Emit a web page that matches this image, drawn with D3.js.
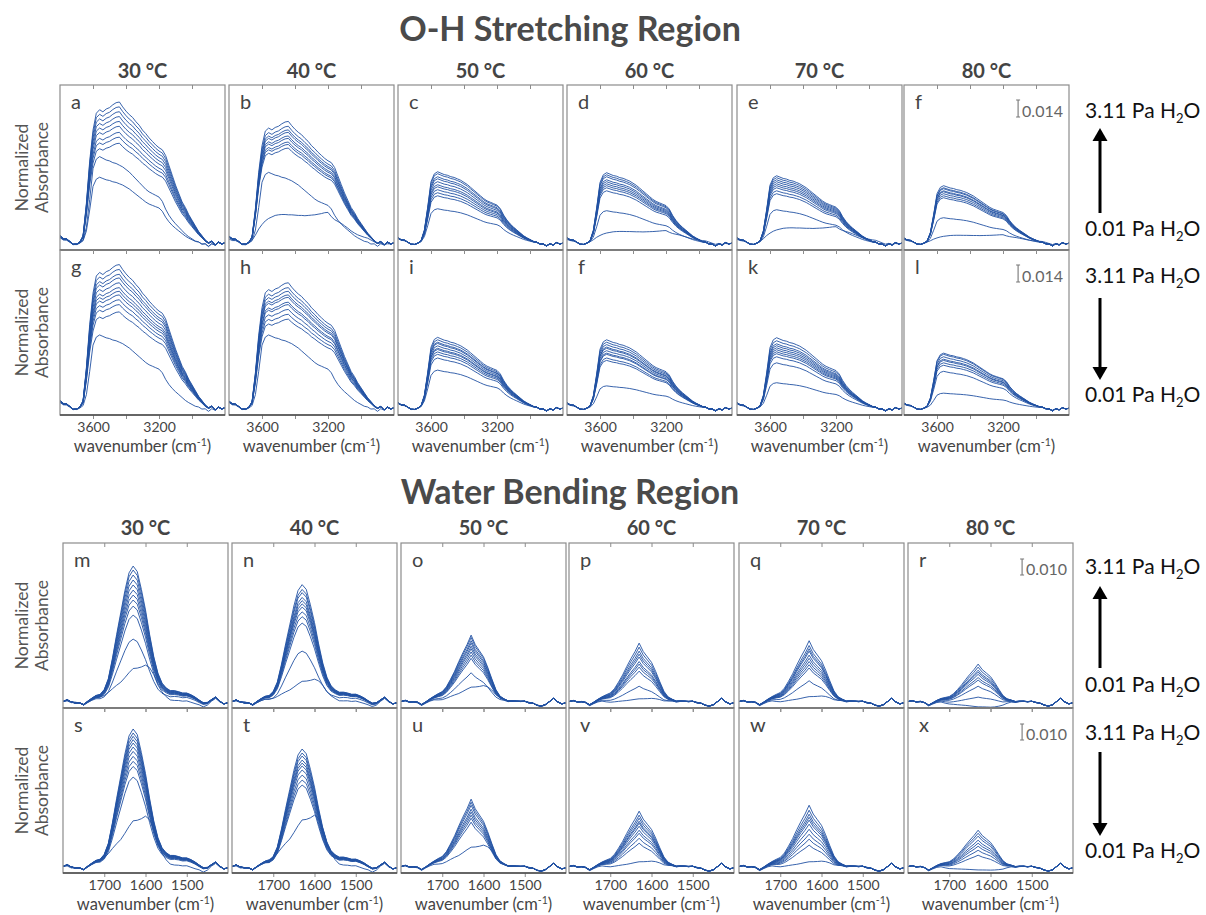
<!DOCTYPE html>
<html>
<head>
<meta charset="utf-8">
<script src="https://cdn.jsdelivr.net/npm/d3@7"></script>
<style>
  body { margin: 0; background: #fff; }
  svg text { font-family: Lato, "Open Sans", sans-serif; }
</style>
</head>
<body>
<div id="chart"></div>
<script>
// ---- data ----

const temps = ["30 °C", "40 °C", "50 °C", "60 °C", "70 °C", "80 °C"];

const ohLettersUp = ["a", "b", "c", "d", "e", "f"];
const ohLettersDown = ["g", "h", "i", "f", "k", "l"];
const bendLettersUp = ["m", "n", "o", "p", "q", "r"];
const bendLettersDown = ["s", "t", "u", "v", "w", "x"];

const ohTicks = [3600, 3400, 3200, 3000];
const ohTickLabels = [3600, 3200];
const bendTicks = [1700, 1600, 1500];
const bendTickLabels = [1700, 1600, 1500];

// O-H region, wavenumber grid (cm-1)
const ohWn = [3800, 3780, 3760, 3740, 3720, 3700, 3680, 3660, 3640, 3620,
  3600, 3580, 3560, 3540, 3520, 3500, 3480, 3460, 3440, 3420,
  3400, 3380, 3360, 3340, 3320, 3300, 3280, 3260, 3240, 3220,
  3200, 3180, 3160, 3140, 3120, 3100, 3080, 3060, 3040, 3020,
  3000, 2980, 2960, 2940, 2920, 2900, 2880, 2860, 2840, 2820, 2800];

// normalized band shapes: b = bulk-like (30-40 °C), s = surface-like, f = flat (lowest coverage)
const ohBulk = [0.030, 0.015, 0.020, 0.005, -0.005, 0.000, 0.010, 0.050, 0.280, 0.580,
  0.800, 0.920, 0.945, 0.930, 0.950, 0.960, 0.980, 0.995, 1.000, 0.965,
  0.935, 0.910, 0.890, 0.860, 0.835, 0.800, 0.775, 0.745, 0.720, 0.695,
  0.675, 0.660, 0.620, 0.550, 0.480, 0.410, 0.350, 0.290, 0.250, 0.200,
  0.160, 0.120, 0.080, 0.055, 0.030, 0.015, 0.020, -0.005, 0.010, 0.000, 0.005];
const ohSurf = [0.030, 0.010, 0.020, 0.000, -0.010, -0.005, 0.005, 0.030, 0.180, 0.500,
  0.860, 0.970, 1.000, 0.980, 0.960, 0.950, 0.930, 0.920, 0.900, 0.880,
  0.850, 0.820, 0.780, 0.740, 0.700, 0.660, 0.620, 0.590, 0.570, 0.550,
  0.530, 0.480, 0.390, 0.320, 0.265, 0.220, 0.180, 0.140, 0.100, 0.070,
  0.045, 0.020, 0.010, -0.010, 0.005, -0.020, 0.000, -0.010, 0.010, 0.000, 0.005];
const ohFlat = [0.02, 0.00, 0.03, 0.00, -0.03, -0.02, 0.02, 0.08, 0.25, 0.45,
  0.60, 0.72, 0.80, 0.85, 0.90, 0.92, 0.93, 0.93, 0.92, 0.92,
  0.91, 0.90, 0.90, 0.89, 0.90, 0.91, 0.92, 0.94, 0.96, 0.99,
  1.00, 0.86, 0.76, 0.70, 0.64, 0.56, 0.48, 0.39, 0.32, 0.26,
  0.22, 0.18, 0.15, 0.11, 0.08, 0.05, 0.02, 0.00, -0.02, 0.00, 0.01];
// shared baseline offset (absorbance)
const ohBase = [0.0025, 0.0018, 0.0010, 0.0004, -0.0008, -0.0012, -0.0006, 0, 0, 0,
  0, 0, 0, 0, 0, 0, 0, 0, 0, 0,
  0, 0, 0, 0, 0, 0, 0, 0, 0, 0,
  0, 0, 0, 0, 0, 0, 0, 0, 0, 0,
  0, 0, 0, -0.0005, -0.0012, -0.0018, -0.0008, -0.0014, -0.0004, -0.0010, -0.0006];

// band amplitudes (absorbance) per curve, and which shape each curve follows
const ohAmpsUp = [
  [0.116, 0.112, 0.108, 0.104, 0.100, 0.096, 0.091, 0.087, 0.082, 0.071, 0.054],
  [0.100, 0.096, 0.093, 0.091, 0.088, 0.086, 0.083, 0.081, 0.078, 0.058, 0.025],
  [0.0585, 0.0569, 0.0544, 0.0527, 0.0503, 0.0478, 0.0461, 0.0437, 0.0412, 0.0387, 0.028],
  [0.0577, 0.056, 0.0544, 0.0519, 0.0503, 0.0486, 0.047, 0.0453, 0.0428, 0.0264, 0.010],
  [0.0552, 0.0536, 0.0519, 0.0503, 0.0486, 0.047, 0.0453, 0.0428, 0.0404, 0.0272, 0.0132],
  [0.047, 0.0453, 0.0445, 0.0428, 0.042, 0.0404, 0.0387, 0.0371, 0.0206, 0.0066]
];
const ohKindsUp = ["bbbbbbbbbss", "bbbbbbbbbsf", "sssssssssss", "ssssssssssf", "ssssssssssf", "sssssssssf"];
const ohAmpsDown = [
  [0.118, 0.114, 0.110, 0.107, 0.103, 0.099, 0.096, 0.093, 0.089, 0.085, 0.079, 0.060],
  [0.103, 0.099, 0.096, 0.093, 0.091, 0.087, 0.085, 0.081, 0.077, 0.073, 0.060],
  [0.058, 0.056, 0.054, 0.053, 0.051, 0.049, 0.048, 0.046, 0.044, 0.041, 0.031],
  [0.056, 0.054, 0.052, 0.050, 0.049, 0.047, 0.045, 0.044, 0.041, 0.039, 0.018],
  [0.0577, 0.0552, 0.0527, 0.0511, 0.0494, 0.0478, 0.0461, 0.0445, 0.042, 0.037, 0.0206],
  [0.045, 0.044, 0.042, 0.040, 0.039, 0.037, 0.035, 0.030, 0.012]
];
const ohKindsDown = ["bbbbbbbbbbbs", "bbbbbbbbbbs", "sssssssssss", "sssssssssss", "sssssssssss", "sssssssss"];

// water bending region
const bendWn = [1800, 1790, 1780, 1770, 1760, 1750, 1740, 1730, 1720, 1710,
  1700, 1690, 1680, 1670, 1660, 1650, 1640, 1630, 1620, 1610,
  1600, 1590, 1580, 1570, 1560, 1550, 1540, 1530, 1520, 1510,
  1500, 1490, 1480, 1470, 1460, 1450, 1440, 1430, 1420, 1410, 1400];
// h = 30-40 °C band, t = sharper band at 50-80 °C, l = lowest coverage
const bendHigh = [0.000, 0.010, 0.000, -0.015, 0.000, 0.010, 0.020, 0.030, 0.045, 0.060,
  0.100, 0.180, 0.330, 0.500, 0.660, 0.820, 0.950, 1.000, 0.960, 0.830,
  0.680, 0.500, 0.340, 0.220, 0.140, 0.100, 0.085, 0.080, 0.070, 0.065,
  0.060, 0.055, 0.045, 0.035, 0.025, 0.020, 0.015, 0.010, 0.005, 0.000, 0.000];
const bendHot = [0.00, 0.01, 0.00, -0.01, 0.01, 0.02, 0.03, 0.05, 0.08, 0.13,
  0.17, 0.24, 0.35, 0.47, 0.61, 0.74, 0.86, 1.00, 0.86, 0.77,
  0.68, 0.53, 0.36, 0.20, 0.09, 0.04, 0.02, 0.01, 0.00, 0.01,
  0.00, -0.01, 0.00, -0.01, 0.00, 0.01, 0.00, 0.00, 0.00, 0.00, 0.00];
const bendLow = [0.00, 0.00, -0.02, -0.03, 0.00, 0.02, 0.04, 0.06, 0.10, 0.15,
  0.20, 0.28, 0.38, 0.47, 0.55, 0.67, 0.80, 0.91, 0.92, 0.95,
  1.00, 0.93, 0.75, 0.48, 0.27, 0.13, 0.06, 0.03, 0.02, 0.02,
  0.01, 0.00, -0.01, 0.00, -0.02, 0.00, 0.01, 0.00, 0.00, 0.00, 0.00];
const bendBase = [0.0010, 0.0014, 0.0008, 0.0012, 0.0002, -0.0016, -0.0004, 0.0006, 0.0010, 0.0004,
  0, 0, 0, 0, 0, 0, 0, 0, 0, 0,
  0, 0, 0, 0, 0.0006, 0.0010, 0.0006, 0.0010, 0.0012, 0.0008,
  0.0012, 0.0006, 0.0000, -0.0010, -0.0018, -0.0012, 0.0010, 0.0030, 0.0008, -0.0004, 0.0002];

const bendAmpsUp = [
  [0.0856, 0.0831, 0.080, 0.0769, 0.0738, 0.0706, 0.0675, 0.0644, 0.0606, 0.055, 0.040, 0.0238],
  [0.074, 0.071, 0.069, 0.066, 0.064, 0.062, 0.060, 0.057, 0.054, 0.050, 0.0325, 0.015],
  [0.0425, 0.041, 0.039, 0.0375, 0.0356, 0.034, 0.032, 0.030, 0.028, 0.019, 0.011],
  [0.0375, 0.035, 0.0325, 0.0306, 0.0288, 0.026, 0.0244, 0.0225, 0.020, 0.0106, 0.003],
  [0.039, 0.036, 0.034, 0.0325, 0.030, 0.028, 0.026, 0.024, 0.022, 0.014, 0.0045],
  [0.0244, 0.0225, 0.0206, 0.0194, 0.018, 0.016, 0.0144, 0.0106, 0.0038, -0.0025]
];
const bendKindsUp = ["hhhhhhhhhhhl", "hhhhhhhhhhhl", "ttttttttttl", "ttttttttttl", "ttttttttttl", "tttttttttl"];
const bendAmpsDown = [
  [0.0869, 0.0844, 0.0823, 0.0802, 0.0781, 0.0756, 0.0729, 0.0698, 0.0667, 0.0635, 0.0569, 0.0325],
  [0.0744, 0.0719, 0.070, 0.0675, 0.0656, 0.0638, 0.0613, 0.0581, 0.055, 0.0519, 0.0331],
  [0.0431, 0.0412, 0.0393, 0.0368, 0.035, 0.0331, 0.0312, 0.0287, 0.0144],
  [0.0356, 0.0331, 0.0312, 0.0293, 0.0281, 0.0262, 0.0237, 0.0218, 0.0187, 0.0156, 0.0044],
  [0.0393, 0.0362, 0.0337, 0.0318, 0.030, 0.0275, 0.0243, 0.0212, 0.0181, 0.0144, 0.0044],
  [0.0237, 0.0218, 0.020, 0.0175, 0.0156, 0.0137, 0.0112, 0.0081, -0.0012]
];
const bendKindsDown = ["hhhhhhhhhhhl", "hhhhhhhhhhl", "ttttttttl", "ttttttttttl", "ttttttttttl", "ttttttttl"];

// ---- drawing ----

const W = 1206, H = 915;
const LINE = "#2151a3";

const svg = d3.select("#chart").append("svg")
  .attr("width", W)
  .attr("height", H);

class SpectraPanel {

  constructor(svg, opts) {
    this.svg = svg;
    this.opts = opts;
    this.left = opts.left;
    this.top = opts.top;
    this.width = opts.width;
    this.height = opts.height;
    this.draw();
  }

  draw() {
    this.g = this.svg.append("g");
    this._createScales();
    this._drawCurves();
    this._drawFrame();
    this._drawText();
  }

  _createScales() {
    this.x = d3.scaleLinear()
      .domain(this.opts.xDomain)
      .range([this.left, this.left + this.width]);
    this.y = d3.scaleLinear()
      .domain(this.opts.yDomain)
      .range([this.top + this.height, this.top]);
  }

  _drawCurves() {
    const o = this.opts;
    const id = "clip-" + o.id;
    this.g.append("clipPath").attr("id", id)
      .append("rect")
      .attr("x", this.left).attr("y", this.top)
      .attr("width", this.width).attr("height", this.height);

    // lowest curve first so the higher ones sit on top
    const curves = o.amps.map((amp, i) => {
      const shape = o.shapes[o.kinds[i]];
      return o.wn.map((w, j) => [w, o.base[j] + amp * shape[j]]);
    }).reverse();

    const line = d3.line()
      .x(d => this.x(d[0]))
      .y(d => this.y(d[1]));

    this.g.append("g")
      .attr("clip-path", `url(#${id})`)
      .selectAll("path")
      .data(curves)
      .join("path")
        .attr("d", line)
        .attr("fill", "none")
        .attr("stroke", LINE)
        .attr("stroke-width", 0.9)
        .attr("stroke-linejoin", "round");
  }

  _drawFrame() {
    const o = this.opts;
    const bottom = this.top + this.height;

    this.g.append("rect")
      .attr("x", this.left).attr("y", this.top)
      .attr("width", this.width).attr("height", this.height)
      .attr("fill", "none")
      .attr("stroke", "#8c8c8c")
      .attr("stroke-width", 1.2);

    const fmt = d => o.showTickLabels && o.tickLabels.includes(d) ? d : "";

    const xAxis = this.g.append("g")
      .attr("transform", `translate(0,${bottom})`)
      .call(d3.axisBottom(this.x).tickValues(o.ticks).tickSize(4).tickPadding(3).tickFormat(fmt));
    xAxis.select(".domain").remove();
    xAxis.selectAll("line").attr("stroke", "#8c8c8c");
    xAxis.selectAll("text")
      .attr("font-size", 14)
      .attr("fill", "#444");

    const topAxis = this.g.append("g")
      .attr("transform", `translate(0,${this.top})`)
      .call(d3.axisTop(this.x).tickValues(o.ticks).tickSize(-4).tickFormat(""));
    topAxis.select(".domain").remove();
    topAxis.selectAll("line").attr("stroke", "#8c8c8c");

    // darker bottom axis line
    this.g.append("line")
      .attr("x1", this.left).attr("x2", this.left + this.width)
      .attr("y1", bottom).attr("y2", bottom)
      .attr("stroke", "#4a4a4a")
      .attr("stroke-width", 1.3);

    if (o.showTickLabels) {
      const t = this.g.append("text")
        .attr("x", this.left + this.width / 2)
        .attr("y", bottom + 37)
        .attr("text-anchor", "middle")
        .attr("font-size", 16.5)
        .attr("fill", "#444")
        .text("wavenumber (cm");
      t.append("tspan").attr("dy", -6).attr("font-size", 10.5).text("-1");
      t.append("tspan").attr("dy", 6).text(")");
    }
  }

  _drawText() {
    const o = this.opts;
    this.g.append("text")
      .attr("x", this.left + 11)
      .attr("y", this.top + 24)
      .attr("font-size", 20)
      .attr("fill", "#444")
      .text(o.letter);

    if (o.scaleBar) {
      const xr = this.left + this.width - 6;
      const yb = this.top + 32;
      const txt = this.g.append("text")
        .attr("x", xr).attr("y", yb)
        .attr("text-anchor", "end")
        .attr("font-size", 16)
        .attr("fill", "#666")
        .text(o.scaleBar.toFixed(3));
      const tw = txt.node().getComputedTextLength();
      const bx = xr - tw - 4;
      const yt = yb - (this.y(0) - this.y(o.scaleBar));
      this.g.append("path")
        .attr("d", `M${bx - 2},${yt}h4M${bx},${yt}V${yb}M${bx - 2},${yb}h4`)
        .attr("fill", "none")
        .attr("stroke", "#777")
        .attr("stroke-width", 1.1);
    }
  }
}

function drawRegion(cfg) {
  svg.append("text")
    .attr("x", 570).attr("y", cfg.titleY)
    .attr("text-anchor", "middle")
    .attr("font-size", 34)
    .attr("font-weight", 700)
    .attr("fill", "#4a4a4a")
    .text(cfg.title);

  cfg.cols.forEach((cx, c) => {
    svg.append("text")
      .attr("x", cx + cfg.w / 2).attr("y", cfg.headY)
      .attr("text-anchor", "middle")
      .attr("font-size", 20)
      .attr("font-weight", 700)
      .attr("fill", "#444")
      .text(temps[c]);
  });

  cfg.rows.forEach((ry, r) => {
    const amps = r === 0 ? cfg.ampsUp : cfg.ampsDown;
    const kinds = r === 0 ? cfg.kindsUp : cfg.kindsDown;
    const letters = r === 0 ? cfg.lettersUp : cfg.lettersDown;

    cfg.cols.forEach((cx, c) => {
      new SpectraPanel(svg, {
        id: cfg.key + r + c,
        left: cx, top: ry, width: cfg.w, height: cfg.h,
        xDomain: cfg.xDomain, yDomain: cfg.yDomain,
        wn: cfg.wn, base: cfg.base, shapes: cfg.shapes,
        amps: amps[c], kinds: kinds[c],
        ticks: cfg.ticks, tickLabels: cfg.tickLabels,
        showTickLabels: r === 1,
        letter: letters[c],
        scaleBar: c === 5 ? cfg.scaleBar : null
      });
    });

    // y label
    const cy = ry + cfg.h / 2;
    [["Normalized", 28], ["Absorbance", 48]].forEach(([s, lx]) => {
      svg.append("text")
        .attr("transform", `translate(${lx},${cy}) rotate(-90)`)
        .attr("text-anchor", "middle")
        .attr("font-size", 17.5)
        .attr("fill", "#555")
        .text(s);
    });

    // pressure annotation
    const a = cfg.notes[r];
    const pressure = (y, v) => {
      const t = svg.append("text")
        .attr("x", 1085).attr("y", y)
        .attr("font-size", 21)
        .attr("fill", "#111")
        .text(v + " Pa H");
      t.append("tspan").attr("dy", 5).attr("font-size", 13).text("2");
      t.append("tspan").attr("dy", -5).text("O");
    };
    pressure(a.hiY, "3.11");
    pressure(a.loY, "0.01");
    const ax = 1100;
    const dir = a.y2 < a.y1 ? 1 : -1;   // 1 = arrow pointing up
    svg.append("line")
      .attr("x1", ax).attr("x2", ax)
      .attr("y1", a.y1).attr("y2", a.y2 + dir * 10)
      .attr("stroke", "#000")
      .attr("stroke-width", 3);
    svg.append("path")
      .attr("d", `M${ax},${a.y2}L${ax - 7.5},${a.y2 + dir * 13}L${ax + 7.5},${a.y2 + dir * 13}Z`)
      .attr("fill", "#000");
  });
}

drawRegion({
  key: "oh",
  title: "O-H Stretching Region", titleY: 41, headY: 78,
  cols: [60, 229, 398, 567, 737, 904], rows: [85, 250], w: 165, h: 165,
  xDomain: [3800, 2800], yDomain: [-0.006, 0.130],
  wn: ohWn, base: ohBase, shapes: { b: ohBulk, s: ohSurf, f: ohFlat },
  ampsUp: ohAmpsUp, kindsUp: ohKindsUp, ampsDown: ohAmpsDown, kindsDown: ohKindsDown,
  lettersUp: ohLettersUp, lettersDown: ohLettersDown,
  ticks: ohTicks, tickLabels: ohTickLabels,
  scaleBar: 0.014,
  notes: [
    { hiY: 118, loY: 236, y1: 213, y2: 128 },
    { hiY: 283, loY: 402, y1: 298, y2: 380 }
  ]
});

drawRegion({
  key: "bend",
  title: "Water Bending Region", titleY: 504, headY: 535,
  cols: [63, 232, 401, 569, 739, 908], rows: [543, 708], w: 165, h: 165,
  xDomain: [1800, 1400], yDomain: [-0.003, 0.100],
  wn: bendWn, base: bendBase, shapes: { h: bendHigh, t: bendHot, l: bendLow },
  ampsUp: bendAmpsUp, kindsUp: bendKindsUp, ampsDown: bendAmpsDown, kindsDown: bendKindsDown,
  lettersUp: bendLettersUp, lettersDown: bendLettersDown,
  ticks: bendTicks, tickLabels: bendTickLabels,
  scaleBar: 0.010,
  notes: [
    { hiY: 574, loY: 692, y1: 668, y2: 586 },
    { hiY: 740, loY: 858, y1: 752, y2: 836 }
  ]
});
</script>
</body>
</html>
